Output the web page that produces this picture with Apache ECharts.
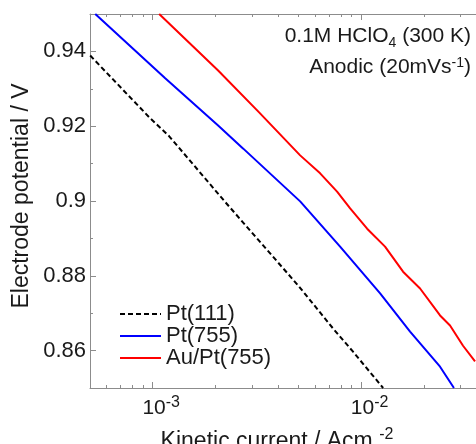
<!DOCTYPE html>
<html><head><meta charset="utf-8">
<script src="https://cdn.jsdelivr.net/npm/echarts@6/dist/echarts.min.js"></script>
<style>html,body{margin:0;padding:0;background:#fff}#c{width:476px;height:444px}</style>
</head><body><div id="c"></div>
<script>
// Tick values
const xLabelTicks = [0.001, 0.01];
const xMinorTicks = [0.0005, 0.0006, 0.0007, 0.0008, 0.0009, 0.002, 0.003, 0.004, 0.005, 0.006, 0.007, 0.008, 0.009, 0.02, 0.03];
const yLabelTicks = [0.86, 0.88, 0.9, 0.92, 0.94];
const yMinorTicks = [0.85, 0.87, 0.89, 0.91, 0.93, 0.95];

// Series data (kinetic current A/cm2, potential V)
const pt111X = [0.000501, 0.000973, 0.0012, 0.00223, 0.00499, 0.00734, 0.00915, 0.01276];
const pt111Y = [0.9389, 0.9221, 0.9173, 0.8997, 0.8774, 0.8659, 0.8597, 0.8500];
const pt755X = [0.00053, 0.001148, 0.00206, 0.00272, 0.0051, 0.00793, 0.01234, 0.01718, 0.02393, 0.0279];
const pt755Y = [0.9500, 0.9328, 0.9202, 0.9140, 0.8999, 0.8878, 0.8753, 0.8651, 0.8557, 0.8500];
const auPtX = [0.001074, 0.00206, 0.00324, 0.0051, 0.00636, 0.00767, 0.00886, 0.01069, 0.01303, 0.0159, 0.01919, 0.02393, 0.02672, 0.03085, 0.03522];
const auPtY = [0.9500, 0.9349, 0.9237, 0.9122, 0.9074, 0.9025, 0.8980, 0.8926, 0.8878, 0.8811, 0.8766, 0.8694, 0.8667, 0.8613, 0.8571];

const zip = (xs, ys) => xs.map((x, i) => [x, ys[i]]);
const FONT = '"Liberation Sans", Arial, sans-serif';
const TXT = '#1a1a1a';
const AX = '#8c8c8c';
const X_MIN = 0.0005, X_MAX = 0.0356;

const chart = echarts.init(document.getElementById('c'), null, {renderer: 'canvas'});

function xAxisDef(pos, major, showLine) {
  return {
    type: 'log', logBase: 10, position: pos, min: X_MIN, max: X_MAX,
    axisLine: {show: showLine, lineStyle: {color: AX, width: 1}},
    axisTick: {show: true, inside: true, length: major ? 6 : 3,
      customValues: major ? xLabelTicks : xMinorTicks, lineStyle: {color: AX, width: 1}},
    axisLabel: (major && pos === 'bottom') ? {
      show: true, customValues: xLabelTicks, margin: 7,
      formatter: v => '{p|}{b|10}{s|' + Math.round(Math.log10(v)) + '}',
      rich: {
        p: {width: 17},
        b: {fontSize: 21, fontFamily: FONT, color: TXT, verticalAlign: 'bottom'},
        s: {fontSize: 16, fontFamily: FONT, color: TXT, verticalAlign: 'top', padding: [0, 0, 8, 0]}
      }
    } : {show: false},
    splitLine: {show: false}
  };
}
function yAxisDef(major, showLine) {
  return {
    type: 'value', position: 'left', min: 0.85, max: 0.95,
    axisLine: {show: showLine, lineStyle: {color: AX, width: 1}},
    axisTick: {show: true, inside: true, length: major ? 6 : 3,
      customValues: major ? yLabelTicks : yMinorTicks, lineStyle: {color: AX, width: 1}},
    axisLabel: major ? {show: true, customValues: yLabelTicks, margin: 4,
      fontSize: 22, fontFamily: FONT, color: TXT} : {show: false},
    splitLine: {show: false}
  };
}

chart.setOption({
  animation: false,
  backgroundColor: '#fff',
  grid: {left: 90, right: 0, top: 14, bottom: 56},
  xAxis: [
    xAxisDef('bottom', true, true),
    xAxisDef('bottom', false, false),
    xAxisDef('top', true, true),
    xAxisDef('top', false, false)
  ],
  yAxis: [yAxisDef(true, true), yAxisDef(false, false)],
  legend: {
    orient: 'vertical', left: 119, top: 303, padding: 0, itemGap: 0,
    itemWidth: 41, itemHeight: 14,
    itemStyle: {opacity: 0},
    textStyle: {fontSize: 22, fontFamily: FONT, color: TXT, lineHeight: 21},
    data: ['Pt(111)', 'Pt(755)', 'Au/Pt(755)']
  },
  series: [
    {name: 'Pt(111)', type: 'line', xAxisIndex: 0, yAxisIndex: 0, symbol: 'none',
     data: zip(pt111X, pt111Y), lineStyle: {color: '#000', width: 2, type: [5, 3]}, itemStyle: {color: '#000'}},
    {name: 'Pt(755)', type: 'line', xAxisIndex: 0, yAxisIndex: 0, symbol: 'none',
     data: zip(pt755X, pt755Y), lineStyle: {color: '#0000ff', width: 2}, itemStyle: {color: '#0000ff'}},
    {name: 'Au/Pt(755)', type: 'line', xAxisIndex: 0, yAxisIndex: 0, symbol: 'none',
     data: zip(auPtX, auPtY), lineStyle: {color: '#ff0000', width: 2}, itemStyle: {color: '#ff0000'}}
  ],
  graphic: [
    {type: 'text', x: 22, y: 196, rotation: Math.PI / 2,
     style: {text: 'Electrode potential / V', font: '23px ' + FONT, fill: TXT, align: 'center', verticalAlign: 'middle'}},
    {type: 'text', x: 277, y: 440,
     style: {text: '{a|Kinetic current / Acm }{s|-2}', align: 'center', verticalAlign: 'middle', fill: TXT,
       rich: {a: {fontSize: 23, fontFamily: FONT, fill: TXT, verticalAlign: 'bottom'},
              s: {fontSize: 16, fontFamily: FONT, fill: TXT, verticalAlign: 'top', padding: [0, 0, 10, 0]}}}},
    {type: 'text', x: 471, y: 38,
     style: {text: '{a|0.1M HClO}{b|4}{a| (300 K)}', align: 'right', verticalAlign: 'middle', fill: TXT,
       rich: {a: {fontSize: 21, fontFamily: FONT, fill: TXT, verticalAlign: 'top'},
              b: {fontSize: 14, fontFamily: FONT, fill: TXT, verticalAlign: 'bottom', padding: [10, 0, 0, 0]}}}},
    {type: 'text', x: 471, y: 67,
     style: {text: '{a|Anodic (20mVs}{b|-1}{a|)}', align: 'right', verticalAlign: 'middle', fill: TXT,
       rich: {a: {fontSize: 21, fontFamily: FONT, fill: TXT, verticalAlign: 'bottom'},
              b: {fontSize: 14, fontFamily: FONT, fill: TXT, verticalAlign: 'top', padding: [0, 0, 8, 0]}}}}
  ]
});
</script>
</body></html>
